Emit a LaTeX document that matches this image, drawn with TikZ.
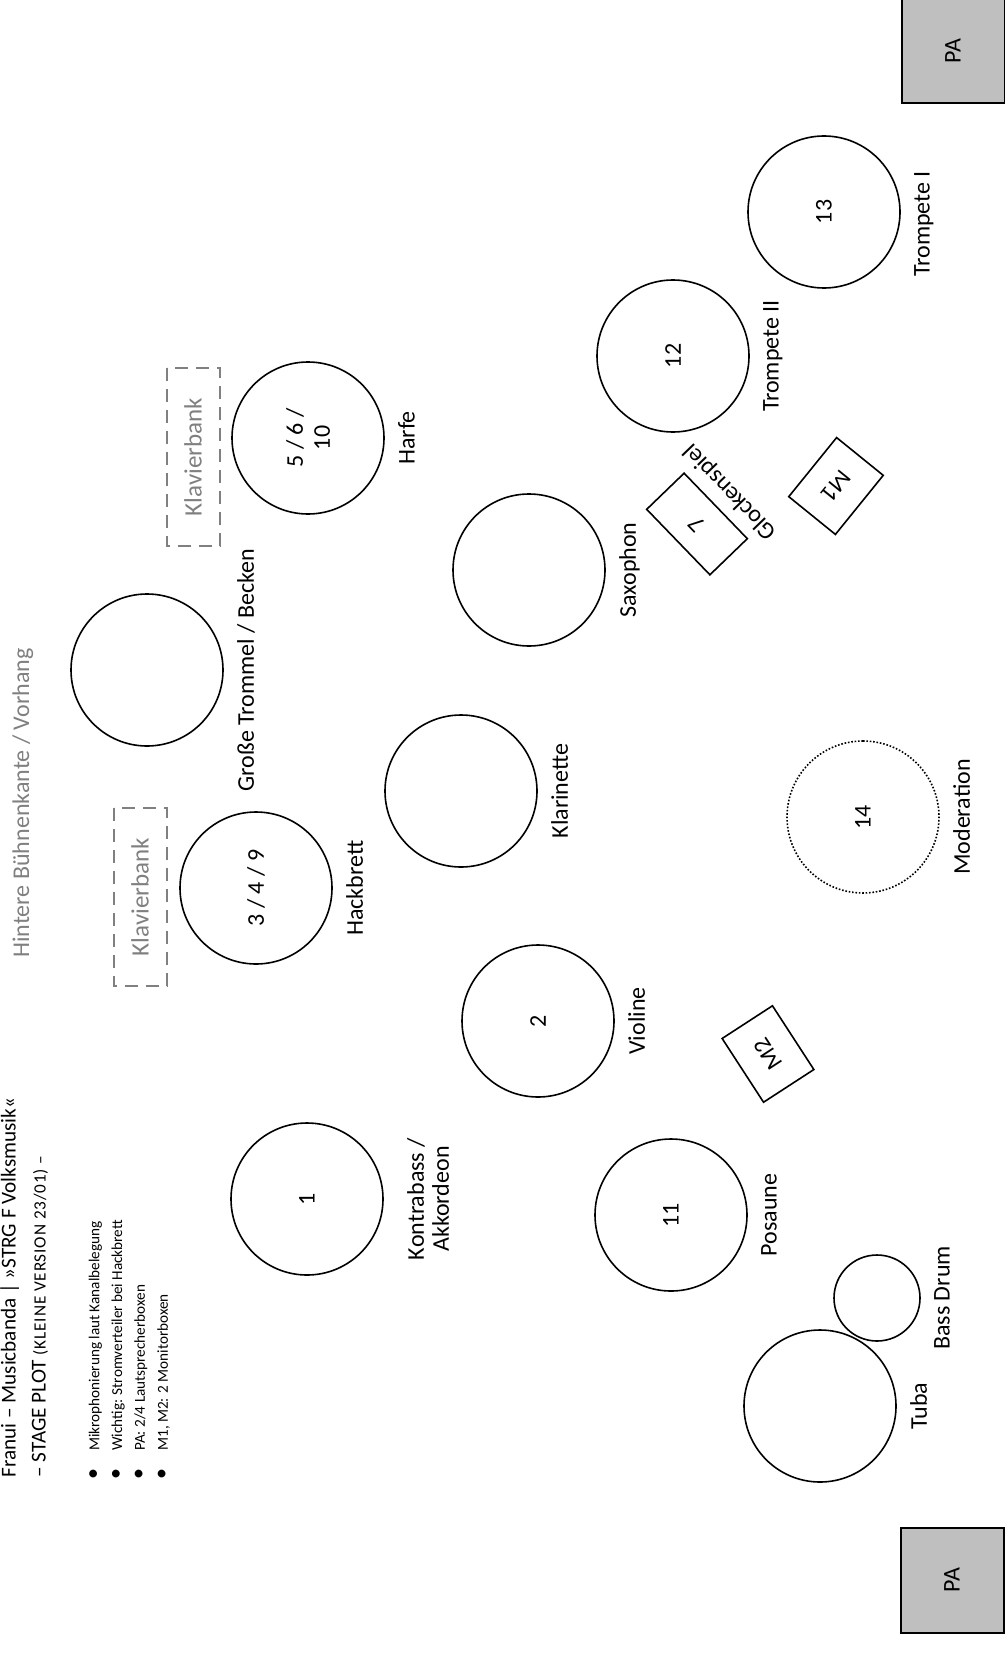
\documentclass[tikz,border=0pt]{standalone}
\usepackage{fontspec}
\setmainfont{Carlito}
\usetikzlibrary{calc}
\newlength{\seatd}
\setlength{\seatd}{76pt}
\newlength{\lblgap}
\setlength{\lblgap}{6.5pt}
\definecolor{pagray}{rgb}{0.75, 0.75, 0.75}
\definecolor{notegray}{rgb}{0.5, 0.5, 0.5}
\newcommand{\lblfont}{\fontsize{12}{13.5}\selectfont}
\newcommand{\titlefont}{\fontsize{10.6}{15}\selectfont}
\newcommand{\subfont}{\fontsize{8.6}{15}\selectfont\addfontfeatures{LetterSpace=5}}
\newcommand{\notefont}{\fontsize{7.6}{11.4}\selectfont}
\newcommand{\notebullet}{{\fontsize{11}{11.4}\selectfont\textbullet}}
\tikzset{seat/.style={draw, circle, line width=0.8pt, minimum size=\seatd, inner sep=0pt, rotate=90, align=center, font=\lblfont}}
\tikzset{host/.style={seat, dash pattern=on 0.8pt off 0.9pt}}
\tikzset{lbl/.style={rotate=#1, anchor=north, inner sep=0pt, align=center, font=\lblfont}, lbl/.default=90}
\tikzset{bench/.style={draw=notegray, line width=1pt, dash pattern=on 6.5pt off 4pt, text=notegray, rotate=90, minimum width=89pt, minimum height=26.5pt, font=\fontsize{12.5}{14}\selectfont}}
\tikzset{monitor/.style={draw, line width=0.8pt, rotate=#1, minimum width=38pt, minimum height=30pt, inner sep=0pt, font=\lblfont}}
\tikzset{speaker/.style={draw, fill=pagray, line width=1pt, rotate=90, minimum width=52.5pt, minimum height=51.5pt, font=\lblfont}}
\tikzset{title/.style={rotate=90, anchor=north west, inner sep=0pt, align=left, font=\titlefont}}
\tikzset{notes/.style={rotate=90, anchor=north west, inner sep=0pt, font=\notefont}}

\begin{document}
\begin{tikzpicture}[x=0.5pt, y=-0.5pt]
	\path[use as bounding box, fill=white] (0,0) rectangle (1005,1664);
	
	%%% NODES %%%
	
	% HEADER
	\node[title] at (0,1478) (title) {Franui – Musicbanda | »STRG F Volksmusik«\\– STAGE PLOT {\subfont (KLEINE VERSION 23/01) –}};
	\node[notes] at (83,1480) (notes) {\begin{tabular}{@{}l@{\hspace{9pt}}l@{}}
		\notebullet & Mikrophonierung laut Kanalbelegung\\
		\notebullet & Wichtig: Stromverteiler bei Hackbrett\\
		\notebullet & PA: 2/4 Lautsprecherboxen\\
		\notebullet & M1, M2: 2 Monitorboxen
	\end{tabular}};
	\node[lbl, text=notegray] at (12,803) (stageedge) {Hintere Bühnenkante / Vorhang};
	
	% PA
	\node[speaker] at (953,51) (patop) {PA};
	\node[speaker] at (952,1580) (pabottom) {PA};
	
	% BENCHES
	\node[bench] at (140,897) (benchleft) {Klavierbank};
	\node[bench] at (193,457) (benchright) {Klavierbank};
	
	% SEATS
	\node[seat] at (307,1199) (kontrabass) {1};
	\node[seat] at (671,1215) (posaune) {11};
	\node[seat, minimum size=43pt] at (877,1298) (bassdrum) {};
	\node[seat] at (820,1406) (tuba) {};
	\node[seat] at (538,1021) (violine) {2};
	\node[seat] at (256,888) (hackbrett) {3 / 4 / 9};
	\node[seat] at (461,791) (klarinette) {};
	\node[host] at (863,817) (moderation) {14};
	\node[seat] at (147,670) (trommel) {};
	\node[seat] at (529,570) (saxophon) {};
	\node[seat] at (308,438) (harfe) {5 / 6 /\\10};
	\node[seat] at (673,356) (trompete2) {12};
	\node[seat] at (824,212) (trompete1) {13};
	
	% GLOCKENSPIEL AND MONITORS
	\node[monitor=134, minimum width=45.5pt, minimum height=26pt] at (697,524) (glock) {7};
	\node[monitor=231] at (836,486) (mone) {M1};
	\node[monitor=123] at (768,1054) (mtwo) {M2};
	
	% LABELS
	\node[lbl, font=\fontsize{12}{12.5}\selectfont] at ([xshift=\lblgap+5pt]kontrabass.south) (lkontrabass) {Kontrabass /\\Akkordeon};
	\node[lbl] at ([xshift=\lblgap]posaune.south) (lposaune) {Posaune};
	\node[lbl] at ([xshift=\lblgap]bassdrum.south) (lbassdrum) {Bass Drum};
	\node[lbl] at ([xshift=\lblgap]tuba.south) (ltuba) {Tuba};
	\node[lbl] at ([xshift=\lblgap]violine.south) (lvioline) {Violine};
	\node[lbl] at ([xshift=\lblgap]hackbrett.south) (lhackbrett) {Hackbrett};
	\node[lbl] at ([xshift=\lblgap]klarinette.south) (lklarinette) {Klarinette};
	\node[lbl] at ([xshift=\lblgap]moderation.south) (lmoderation) {Moderation};
	\node[lbl] at ([xshift=\lblgap]trommel.south) (ltrommel) {Große Trommel / Becken};
	\node[lbl] at ([xshift=\lblgap]saxophon.south) (lsaxophon) {Saxophon};
	\node[lbl] at ([xshift=\lblgap]harfe.south) (lharfe) {Harfe};
	\node[lbl] at ([xshift=\lblgap]trompete2.south) (ltrompete2) {Trompete II};
	\node[lbl] at ([xshift=\lblgap, yshift=-6pt]trompete1.south) (ltrompete1) {Trompete I};
	\node[lbl=134] at ($(glock.south)!-4.5pt!(glock.center)$) (lglock) {Glockenspiel};
	
\end{tikzpicture}
\end{document}
